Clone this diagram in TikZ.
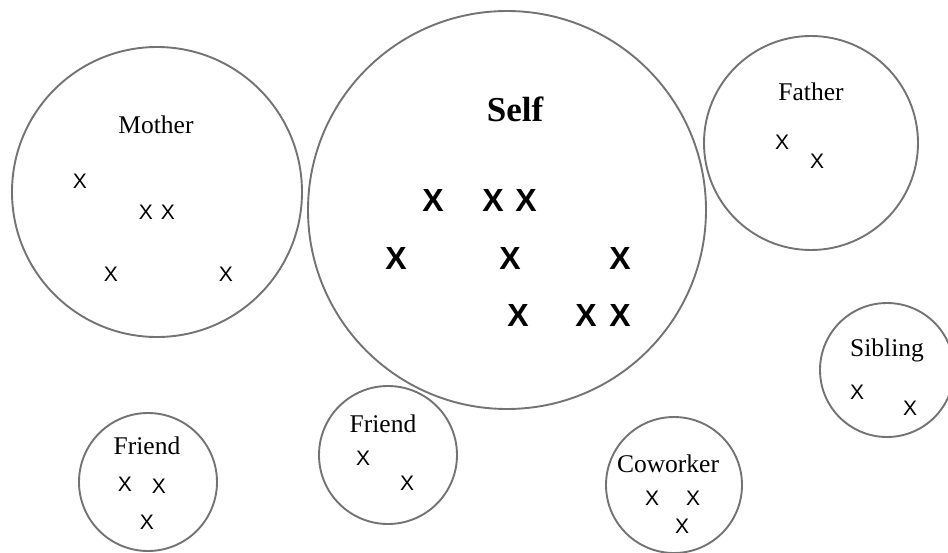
\documentclass[tikz,border=0pt]{standalone}
\usepackage{fontspec}
\setmainfont{Liberation Serif}
\newfontfamily\markfont{Liberation Sans}

\tikzset{
  ring/.style={draw=black!55, line width=1.9pt, circle, inner sep=0pt},
  grouplabel/.style={font=\fontsize{25.5}{29}\selectfont, text depth=0pt, inner sep=0pt},
  selflabel/.style={grouplabel, font=\bfseries\fontsize{35}{40}\selectfont},
  xmark/.style={font=\markfont\fontsize{21}{24}\selectfont, inner sep=0pt},
  bigxmark/.style={font=\markfont\bfseries\fontsize{32}{36}\selectfont, inner sep=0pt},
}

\begin{document}
\begin{tikzpicture}[x=1pt, y=-1pt]
    \useasboundingbox (0,0) rectangle (948,552);

    % the circles
    \node[ring, minimum size=290pt] (mother)    at (157,192) {};
    \node[ring, minimum size=398pt] (self)      at (507,210) {};
    \node[ring, minimum size=214pt] (father)    at (811,143) {};
    \node[ring, minimum size=134pt] (sibling)   at (887,370) {};
    \node[ring, minimum size=138pt] (friendone) at (148,482) {};
    \node[ring, minimum size=138pt] (friendtwo) at (388,455) {};
    \node[ring, minimum size=136pt] (coworker)  at (674,485) {};

    % names
    \node[grouplabel] (motherlabel)    at (156,125) {Mother};
    \node[selflabel]  (selflabel)      at (515,109) {Self};
    \node[grouplabel] (fatherlabel)    at (811,92)  {Father};
    \node[grouplabel] (siblinglabel)   at (887,348) {Sibling};
    \node[grouplabel] (friendonelabel) at (147,446) {Friend};
    \node[grouplabel] (friendtwolabel) at (383,424) {Friend};
    \node[grouplabel] (coworkerlabel)  at (668,464) {Coworker};

    % marks
    \foreach \px/\py [count=\i] in {433/200, 493/200, 526/200,
                                    396/258, 510/258, 620/258,
                                    518/315, 586/315, 620/315}
        \node[bigxmark] (sx\i) at (\px,\py) {X};
    \foreach \px/\py [count=\i] in {80/181, 146/212, 168/212, 111/274, 226/274}
        \node[xmark] (mx\i) at (\px,\py) {X};
    \foreach \px/\py [count=\i] in {782/142, 817/161}
        \node[xmark] (fx\i) at (\px,\py) {X};
    \foreach \px/\py [count=\i] in {857/392, 910/408}
        \node[xmark] (bx\i) at (\px,\py) {X};
    \foreach \px/\py [count=\i] in {125/484, 159/486, 147/522}
        \node[xmark] (ax\i) at (\px,\py) {X};
    \foreach \px/\py [count=\i] in {363/458, 407/483}
        \node[xmark] (tx\i) at (\px,\py) {X};
    \foreach \px/\py [count=\i] in {652/498, 693/498, 682/526}
        \node[xmark] (cx\i) at (\px,\py) {X};
\end{tikzpicture}
\end{document}
